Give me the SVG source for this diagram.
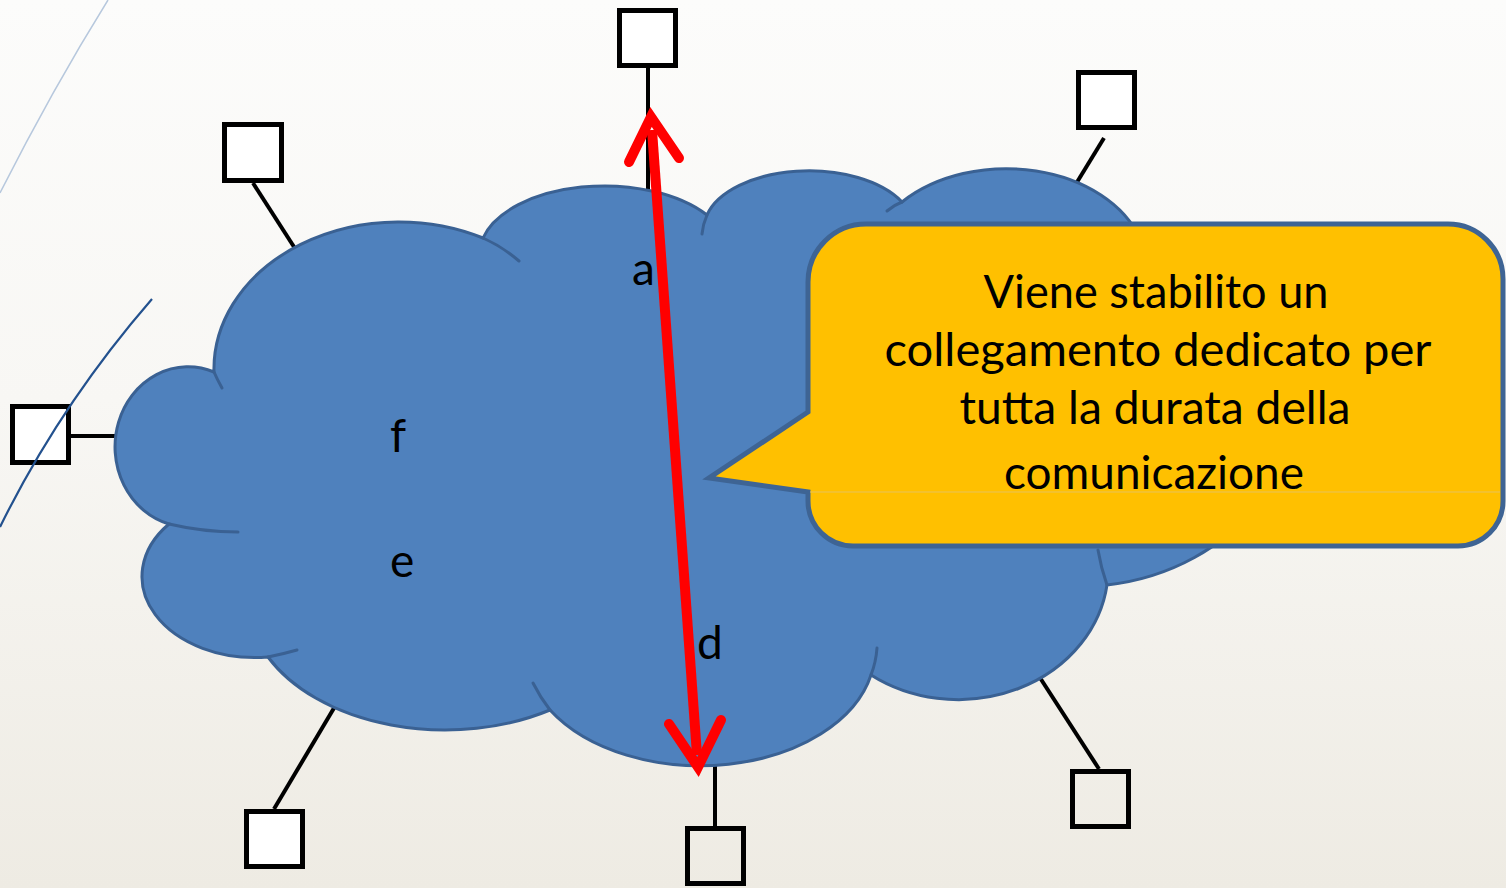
<svg xmlns="http://www.w3.org/2000/svg" width="1506" height="888" viewBox="0 0 1506 888">
  <defs>
    <linearGradient id="bg" x1="0" y1="0" x2="0" y2="1">
      <stop offset="0" stop-color="#fcfcfb"/>
      <stop offset="0.45" stop-color="#f8f7f4"/>
      <stop offset="1" stop-color="#eeebe3"/>
    </linearGradient>
    <style>
      .box { fill: #ffffff; stroke: #000000; stroke-width: 5; }
      .box2 { fill: none; stroke: #000000; stroke-width: 5; }
      .conn { stroke: #000000; stroke-width: 4; fill: none; }
      .cloud { fill: #4F81BD; stroke: #3A6193; stroke-width: 3; }
      .tail { fill: none; stroke: #3A6193; stroke-width: 3; stroke-linecap: round; }
      .lbl { font-family: Lato, "Open Sans", "Liberation Sans", sans-serif; font-size: 46px; fill: #000000; }
      .call { font-family: Lato, "Open Sans", "Liberation Sans", sans-serif; font-size: 46px; fill: #000000; text-anchor: middle; }
      .red { stroke: #FF0000; stroke-width: 10; fill: none; }
      .head { stroke: #FF0000; stroke-width: 10; fill: none; stroke-linecap: round; stroke-linejoin: miter; stroke-miterlimit: 10; }
    </style>
  </defs>

  <rect x="0" y="0" width="1506" height="888" fill="url(#bg)"/>

  <g id="connectors">
    <line class="conn" x1="648" y1="68" x2="648" y2="194"/>
    <line class="conn" x1="1104" y1="138" x2="1071" y2="192"/>
    <line class="conn" x1="253" y1="183" x2="296" y2="250"/>
    <line class="conn" x1="71" y1="436" x2="118" y2="436"/>
    <line class="conn" x1="274" y1="809" x2="337" y2="703"/>
    <line class="conn" x1="715" y1="764" x2="715" y2="826"/>
    <line class="conn" x1="1035" y1="670" x2="1099" y2="769"/>
  </g>

  <g id="cloud">
    <path class="cloud" d="M 169 524 A 73 80 0 1 1 214 372 A 185 147 0 0 1 483 238 A 125 68 0 0 1 707 215 A 105 58 0 0 1 902 202 A 140 100 0 0 1 1140 239 L 1288 320 A 220 200 0 0 1 1107 585 A 150 132 0 0 1 871 675 A 175 115 0 0 1 550 710 A 197 130 0 0 1 268 657 A 113 81 0 0 1 169 524 Z"/>
    <path class="tail" d="M 214 372 Q 217 379 222 388"/>
    <path class="tail" d="M 483 238 Q 503 247 519 261"/>
    <path class="tail" d="M 707 215 Q 703 224 702 234"/>
    <path class="tail" d="M 902 202 Q 894 205 887 211"/>
    <path class="tail" d="M 169 524 Q 203 532 238 532"/>
    <path class="tail" d="M 268 657 Q 283 654 297 650"/>
    <path class="tail" d="M 550 710 Q 540 697 533 683"/>
    <path class="tail" d="M 871 675 Q 876 662 877 648"/>
    <path class="tail" d="M 1107 585 Q 1101 568 1098 550"/>
  </g>

  <g id="labels">
    <text class="lbl" x="632" y="285">a</text>
    <text class="lbl" x="390" y="452">f</text>
    <text class="lbl" x="390" y="577">e</text>
    <text class="lbl" x="697" y="659">d</text>
  </g>

  <g id="node-top"><rect class="box" x="619.5" y="10.5" width="56" height="55"/></g>
  <g id="node-top-right"><rect class="box" x="1078.5" y="72.5" width="56" height="55"/></g>
  <g id="node-upper-left"><rect class="box" x="224.5" y="124.5" width="57" height="56"/></g>
  <g id="node-left"><rect class="box" x="12.5" y="406.5" width="56" height="56"/></g>
  <g id="node-bottom-left"><rect class="box" x="246.5" y="811.5" width="56" height="55"/></g>
  <g id="node-bottom"><rect class="box2" x="687.5" y="828.5" width="56" height="55"/></g>
  <g id="node-bottom-right"><rect class="box2" x="1072.5" y="771.5" width="56" height="55"/></g>

  <g id="deco">
    <path d="M 108 0 Q 52 90 0 193" fill="none" stroke="#b7c8dd" stroke-width="1.5"/>
    <path d="M 152 299 Q 60 405 0 527" fill="none" stroke="#23518e" stroke-width="2.2"/>
  </g>

  <g id="arrow">
    <line class="red" x1="652" y1="130" x2="697" y2="755"/>
    <path class="head" d="M 629 162 L 651 117 L 679 158"/>
    <path class="head" d="M 669 724 L 698 767 L 721 720"/>
  </g>

  <g id="callout">
    <path d="M 866 224 H 1448 A 55 55 0 0 1 1503 279 V 501 A 45 45 0 0 1 1458 546 H 853 A 45 45 0 0 1 808 501 V 492 L 709 478 L 808 412 V 282 A 58 58 0 0 1 866 224 Z" fill="#FFC000" stroke="#3E6494" stroke-width="5"/>
    <line x1="810" y1="492" x2="1500" y2="492" stroke="#e6c25c" stroke-width="1"/>
    <text class="call" x="1156" y="308" textLength="345" lengthAdjust="spacingAndGlyphs">Viene stabilito un</text>
    <text class="call" x="1158" y="366" textLength="547" lengthAdjust="spacingAndGlyphs">collegamento dedicato per</text>
    <text class="call" x="1155" y="424" textLength="391" lengthAdjust="spacingAndGlyphs">tutta la durata della</text>
    <text class="call" x="1154" y="489" textLength="300" lengthAdjust="spacingAndGlyphs">comunicazione</text>
  </g>
</svg>
